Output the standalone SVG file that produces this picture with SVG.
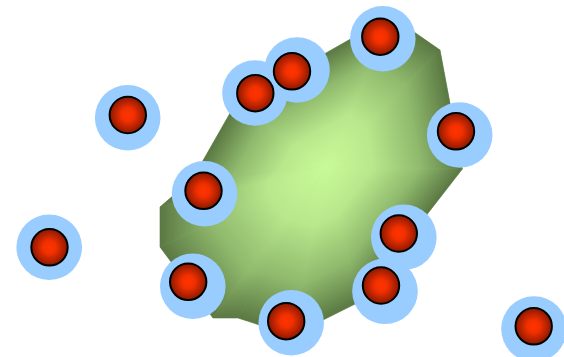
<svg xmlns="http://www.w3.org/2000/svg" xmlns:xlink="http://www.w3.org/1999/xlink" width="564" height="357" viewBox="0 0 564 357">
  <defs>
    <linearGradient id="hullStops">
      <stop offset="0" stop-color="#5a7843"/>
      <stop offset="0.3" stop-color="#8fb96c"/>
      <stop offset="0.65" stop-color="#b8e78c"/>
      <stop offset="1" stop-color="#c9fb98"/>
    </linearGradient>
    <linearGradient id="g0" href="#hullStops" xlink:href="#hullStops" gradientUnits="userSpaceOnUse" x1="417.85" y1="34.63" x2="326" y2="167"/>
    <linearGradient id="g1" href="#hullStops" xlink:href="#hullStops" gradientUnits="userSpaceOnUse" x1="457.31" y1="142.39" x2="326" y2="167"/>
    <linearGradient id="g2" href="#hullStops" xlink:href="#hullStops" gradientUnits="userSpaceOnUse" x1="411.98" y1="233.78" x2="326" y2="167"/>
    <linearGradient id="g3" href="#hullStops" xlink:href="#hullStops" gradientUnits="userSpaceOnUse" x1="386.6" y1="288.2" x2="326" y2="167"/>
    <linearGradient id="g4" href="#hullStops" xlink:href="#hullStops" gradientUnits="userSpaceOnUse" x1="273.35" y1="329.46" x2="326" y2="167"/>
    <linearGradient id="g5" href="#hullStops" xlink:href="#hullStops" gradientUnits="userSpaceOnUse" x1="326" y1="318" x2="326" y2="167"/>
    <linearGradient id="g6" href="#hullStops" xlink:href="#hullStops" gradientUnits="userSpaceOnUse" x1="181.05" y1="275.2" x2="326" y2="167"/>
    <linearGradient id="g7" href="#hullStops" xlink:href="#hullStops" gradientUnits="userSpaceOnUse" x1="160" y1="167" x2="326" y2="167"/>
    <linearGradient id="g8" href="#hullStops" xlink:href="#hullStops" gradientUnits="userSpaceOnUse" x1="274.75" y1="107.74" x2="326" y2="167"/>
    <linearGradient id="g9" href="#hullStops" xlink:href="#hullStops" gradientUnits="userSpaceOnUse" x1="230.43" y1="112.48" x2="326" y2="167"/>
    <linearGradient id="g10" href="#hullStops" xlink:href="#hullStops" gradientUnits="userSpaceOnUse" x1="276.98" y1="80.92" x2="326" y2="167"/>
    <radialGradient id="redGrad" cx="0.5" cy="0.5" r="0.5">
      <stop offset="0" stop-color="#ff3300"/>
      <stop offset="0.35" stop-color="#f23000"/>
      <stop offset="1" stop-color="#8a1800"/>
    </radialGradient>
  </defs>
  <style>
    .halo { fill: #99ccff; stroke: none; }
    .dot { fill: url(#redGrad); stroke: #000; stroke-width: 2; }
    .facet { stroke-width: 0.6; stroke-linejoin: round; }
  </style>
  <g id="hull">
    <polygon points="391,16 440,50 462.3,169 359,302 292,335.5 238,318 213,318 160,247 160,207 192.6,178.8 234.7,105" fill="#a0cc7a"/>
    <polygon class="facet" points="326,167 391,16 440,50" fill="url(#g0)" stroke="url(#g0)"/>
    <polygon class="facet" points="326,167 440,50 462.3,169" fill="url(#g1)" stroke="url(#g1)"/>
    <polygon class="facet" points="326,167 462.3,169 359,302" fill="url(#g2)" stroke="url(#g2)"/>
    <polygon class="facet" points="326,167 359,302 292,335.5" fill="url(#g3)" stroke="url(#g3)"/>
    <polygon class="facet" points="326,167 292,335.5 238,318" fill="url(#g4)" stroke="url(#g4)"/>
    <polygon class="facet" points="326,167 238,318 213,318" fill="url(#g5)" stroke="url(#g5)"/>
    <polygon class="facet" points="326,167 213,318 160,247" fill="url(#g6)" stroke="url(#g6)"/>
    <polygon class="facet" points="326,167 160,247 160,207" fill="url(#g7)" stroke="url(#g7)"/>
    <polygon class="facet" points="326,167 160,207 192.6,178.8" fill="url(#g8)" stroke="url(#g8)"/>
    <polygon class="facet" points="326,167 192.6,178.8 234.7,105" fill="url(#g9)" stroke="url(#g9)"/>
    <polygon class="facet" points="326,167 234.7,105 391,16" fill="url(#g10)" stroke="url(#g10)"/>
  </g>
  <g id="halos">
    <circle class="halo" cx="127.7" cy="117.8" r="32.8"/>
    <circle class="halo" cx="49.2" cy="247.2" r="32.8"/>
    <circle class="halo" cx="534" cy="329" r="32.8"/>
    <circle class="halo" cx="382.8" cy="38.7" r="32.8"/>
    <circle class="halo" cx="255" cy="93" r="32.8"/>
    <circle class="halo" cx="297" cy="70" r="32.8"/>
    <circle class="halo" cx="459.7" cy="135" r="32.8"/>
    <circle class="halo" cx="204.5" cy="193.8" r="32.8"/>
    <circle class="halo" cx="403.8" cy="237.2" r="32.8"/>
    <circle class="halo" cx="385" cy="291.2" r="32.8"/>
    <circle class="halo" cx="192.8" cy="286.2" r="32.8"/>
    <circle class="halo" cx="291.2" cy="322.8" r="32.8"/>
  </g>
  <g id="node-1"><circle class="dot" cx="127.8" cy="115" r="18.2"/></g>
  <g id="node-2"><circle class="dot" cx="49.5" cy="247.3" r="18.2"/></g>
  <g id="node-3"><circle class="dot" cx="533.7" cy="326.3" r="18.2"/></g>
  <g id="node-4"><circle class="dot" cx="380.3" cy="36.7" r="18.2"/></g>
  <g id="node-5"><circle class="dot" cx="292" cy="71.3" r="18.2"/></g>
  <g id="node-6"><circle class="dot" cx="255.3" cy="93.2" r="18.2"/></g>
  <g id="node-7"><circle class="dot" cx="456" cy="131.3" r="18.2"/></g>
  <g id="node-8"><circle class="dot" cx="203.5" cy="190.8" r="18.2"/></g>
  <g id="node-9"><circle class="dot" cx="398.8" cy="233.5" r="18.2"/></g>
  <g id="node-10"><circle class="dot" cx="381" cy="285.5" r="18.2"/></g>
  <g id="node-11"><circle class="dot" cx="188.2" cy="281.8" r="18.2"/></g>
  <g id="node-12"><circle class="dot" cx="286.2" cy="321.2" r="18.2"/></g>
  <g id="connectors"/>
</svg>
